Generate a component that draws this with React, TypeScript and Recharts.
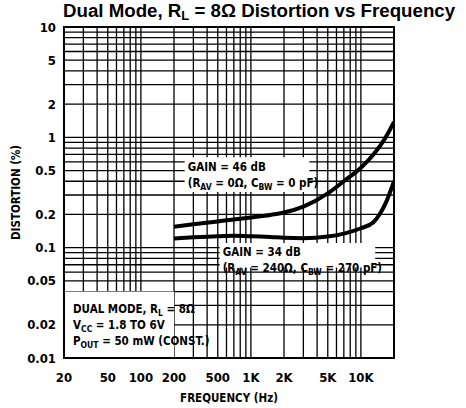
import {
  Label,
  Line,
  LineChart,
  ReferenceArea,
  ReferenceLine,
  XAxis,
  YAxis,
} from "recharts";

// frequency (Hz) sampled along both curves
const FREQS = [200, 300, 500, 700, 1000, 1500, 2000, 3000, 5000, 7000, 10000, 13000, 15000, 17000, 20000];
// distortion (%) — GAIN = 46 dB
const GAIN_46 = [0.155, 0.163, 0.173, 0.18, 0.188, 0.198, 0.208, 0.235, 0.31, 0.4, 0.53, 0.7, 0.84, 1.02, 1.38];
// distortion (%) — GAIN = 34 dB
const GAIN_34 = [0.121, 0.124, 0.127, 0.128, 0.127, 0.125, 0.123, 0.122, 0.126, 0.134, 0.15, 0.17, 0.205, 0.26, 0.4];

const X_TICKS = [20, 50, 100, 200, 500, 1000, 2000, 5000, 10000];
const Y_TICKS = [0.01, 0.02, 0.05, 0.1, 0.2, 0.5, 1, 2, 5, 10];

// log grid: 1..9 in every decade
const X_GRID = [
  30, 40, 50, 60, 70, 80, 90, 100, 200, 300, 400, 500, 600, 700, 800, 900,
  1000, 2000, 3000, 4000, 5000, 6000, 7000, 8000, 9000, 10000,
];
const Y_GRID = [
  0.02, 0.03, 0.04, 0.05, 0.06, 0.07, 0.08, 0.09, 0.1, 0.2, 0.3, 0.4,
  0.5, 0.6, 0.7, 0.8, 0.9, 1, 2, 3, 4, 5, 6, 7, 8, 9,
];

const rows = FREQS.map((f, i) => ({ f, g46: GAIN_46[i], g34: GAIN_34[i] }));

const FONT = '"DejaVu Sans Condensed", "Liberation Sans Narrow", Arial, sans-serif';

const fmtFreq = (v: number) => (v >= 1000 ? `${v / 1000}K` : `${v}`);

type Seg = { t: string; sub?: boolean };

// white box note with subscripts, drawn from the box's viewBox
function note(lines: Seg[][], dx: number, dy: number, lh: number) {
  return (props: any) => {
    const vb = props.viewBox || {};
    return (
      <text
        x={vb.x + dx}
        y={vb.y + dy}
        fontFamily={FONT}
        fontSize={11.5}
        fontWeight={700}
        fill="#000"
      >
        {lines.map((segs, li) => (
          <tspan key={li} x={vb.x + dx} y={vb.y + dy + li * lh}>
            {segs.map((s, si) =>
              s.sub ? (
                <tspan key={si} fontSize={8.5} dy={3}>
                  {s.t}
                </tspan>
              ) : (
                <tspan key={si} dy={si > 0 && segs[si - 1].sub ? -3 : 0}>
                  {s.t}
                </tspan>
              ),
            )}
          </tspan>
        ))}
      </text>
    );
  };
}

const tickStyle = { fill: "#000", fontFamily: FONT, fontSize: 13, fontWeight: 700 };

export default function App() {
  return (
    <div style={{ position: "absolute", left: 0, top: 0, width: 466, height: 408, background: "#fff" }}>
      <div
        style={{
          position: "absolute",
          left: 63,
          top: 0,
          fontFamily: "Arial, 'Liberation Sans', sans-serif",
          fontWeight: 700,
          fontSize: 18.7,
          whiteSpace: "nowrap",
          lineHeight: "22px",
        }}
      >
        Dual Mode, R<sub style={{ fontSize: 13, verticalAlign: -3 }}>L</sub> = 8Ω Distortion vs Frequency
      </div>
      <LineChart
        width={466}
        height={408}
        data={rows}
        margin={{ top: 27, right: 72, bottom: 0, left: 0 }}
      >
        <XAxis
          dataKey="f"
          type="number"
          scale="log"
          domain={[20, 20000]}
          allowDataOverflow
          ticks={X_TICKS}
          tickFormatter={fmtFreq}
          tickLine={false}
          axisLine={false}
          tickMargin={9}
          height={50}
          tick={tickStyle}
        >
          <Label
            value="FREQUENCY (Hz)"
            position="insideBottom"
            offset={6}
            style={{ fill: "#000", fontFamily: FONT, fontSize: 11.5, fontWeight: 700 }}
          />
        </XAxis>
        <YAxis
          type="number"
          scale="log"
          domain={[0.01, 10]}
          allowDataOverflow
          ticks={Y_TICKS}
          tickFormatter={(v: number) => `${v}`}
          tickLine={false}
          axisLine={false}
          width={64}
          tick={tickStyle}
        >
          <Label
            value="DISTORTION (%)"
            angle={-90}
            position="insideLeft"
            offset={16}
            style={{ textAnchor: "middle", fill: "#000", fontFamily: FONT, fontSize: 11.5, fontWeight: 700 }}
          />
        </YAxis>

        {/* log grid */}
        {X_GRID.map((v) => (
          <ReferenceLine key={`x${v}`} x={v} stroke="#000" strokeWidth={1.3} zIndex={-90} />
        ))}
        {Y_GRID.map((v) => (
          <ReferenceLine key={`y${v}`} y={v} stroke="#000" strokeWidth={1.3} zIndex={-90} />
        ))}

        {/* gaps in the grid behind the notes */}
        <ReferenceArea x1={250} x2={3400} y1={0.32} y2={0.66} fill="#fff" fillOpacity={1} stroke="none" ifOverflow="visible" zIndex={-80}>
          <Label
            content={note(
              [
                [{ t: "GAIN = 46 dB" }],
                [{ t: "(R" }, { t: "AV", sub: true }, { t: " = 0Ω, C" }, { t: "BW", sub: true }, { t: " = 0 pF)" }],
              ],
              3,
              14,
              16,
            )}
          />
        </ReferenceArea>
        <ReferenceArea x1={520} x2={13500} y1={0.066} y2={0.11} fill="#fff" fillOpacity={1} stroke="none" ifOverflow="visible" zIndex={-80}>
          <Label
            content={note(
              [
                [{ t: "GAIN = 34 dB" }],
                [{ t: "(R" }, { t: "AV", sub: true }, { t: " = 240Ω, C" }, { t: "BW", sub: true }, { t: " = 270 pF)" }],
              ],
              3,
              13,
              16,
            )}
          />
        </ReferenceArea>
        <ReferenceArea x1={20} x2={200} y1={0.01} y2={0.04} fill="#fff" fillOpacity={1} stroke="none" ifOverflow="visible" zIndex={-80}>
          <Label
            content={note(
              [
                [{ t: "DUAL MODE, R" }, { t: "L", sub: true }, { t: " = 8Ω" }],
                [{ t: "V" }, { t: "CC", sub: true }, { t: " = 1.8 TO 6V" }],
                [{ t: "P" }, { t: "OUT", sub: true }, { t: " = 50 mW (CONST.)" }],
              ],
              9,
              21,
              16,
            )}
          />
        </ReferenceArea>

        {/* plot frame */}
        <ReferenceArea x1={20} x2={20000} y1={0.01} y2={10} fill="none" stroke="#000" strokeWidth={2} ifOverflow="visible" />

        <Line
          dataKey="g46"
          type="monotone"
          stroke="#000"
          strokeWidth={4}
          dot={false}
          isAnimationActive={false}
        />
        <Line
          dataKey="g34"
          type="monotone"
          stroke="#000"
          strokeWidth={4}
          dot={false}
          isAnimationActive={false}
        />
      </LineChart>
    </div>
  );
}
